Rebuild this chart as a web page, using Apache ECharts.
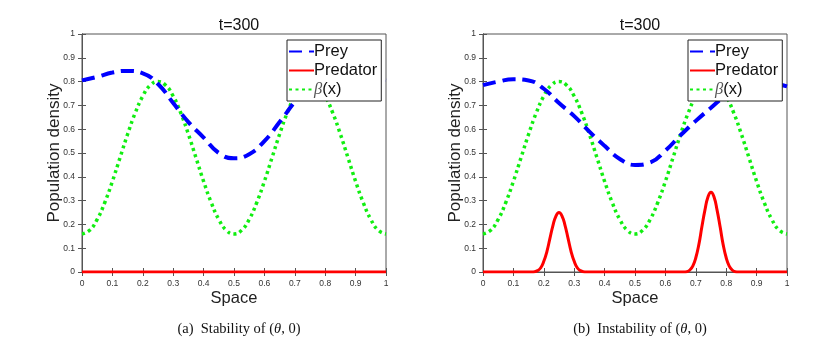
<!DOCTYPE html>
<html>
<head>
<meta charset="utf-8">
<script src="https://cdn.jsdelivr.net/npm/echarts@6/dist/echarts.min.js"></script>
<style>
  html, body { margin: 0; background: #fff; }
  #chart { width: 831px; height: 343px; }
</style>
</head>
<body>
<div id="chart"></div>
<script>
// data
const preyX = [0, 0.05, 0.1, 0.15, 0.2, 0.25, 0.3, 0.35, 0.4, 0.45, 0.5, 0.55, 0.6, 0.65, 0.7, 0.75, 0.8, 0.85, 0.9, 0.95, 1];
const preyStable = [0.805, 0.82, 0.838, 0.845, 0.835, 0.79, 0.71, 0.63, 0.565, 0.5, 0.478, 0.495, 0.55, 0.63, 0.715, 0.79, 0.835, 0.845, 0.838, 0.82, 0.805];
const preyUnstable = [0.785, 0.8, 0.81, 0.805, 0.77, 0.71, 0.655, 0.59, 0.53, 0.475, 0.45, 0.46, 0.51, 0.575, 0.635, 0.69, 0.745, 0.79, 0.805, 0.795, 0.78];

const betaX = [0, 0.025, 0.05, 0.075, 0.1, 0.125, 0.15, 0.175, 0.2, 0.225, 0.25, 0.275, 0.3, 0.325, 0.35, 0.375, 0.4, 0.425, 0.45, 0.475, 0.5,
  0.525, 0.55, 0.575, 0.6, 0.625, 0.65, 0.675, 0.7, 0.725, 0.75, 0.775, 0.8, 0.825, 0.85, 0.875, 0.9, 0.925, 0.95, 0.975, 1];
const betaY = [0.16, 0.175, 0.221, 0.292, 0.381, 0.48, 0.579, 0.668, 0.739, 0.785, 0.8, 0.785, 0.739, 0.668, 0.579, 0.48, 0.381, 0.292, 0.221, 0.175, 0.16,
  0.175, 0.221, 0.292, 0.381, 0.48, 0.579, 0.668, 0.739, 0.785, 0.8, 0.785, 0.739, 0.668, 0.579, 0.48, 0.381, 0.292, 0.221, 0.175, 0.16];

const predStableX = [0, 1];
const predStable = [0, 0];
const predUnstableX = [0, 0.1, 0.16, 0.17, 0.18, 0.19, 0.2, 0.21, 0.22, 0.23, 0.24, 0.25, 0.26, 0.27, 0.28, 0.29, 0.3, 0.31, 0.32, 0.33, 0.34,
  0.4, 0.5, 0.6, 0.66, 0.67, 0.68, 0.69, 0.7, 0.71, 0.72, 0.73, 0.74, 0.75, 0.76, 0.77, 0.78, 0.79, 0.8, 0.81, 0.82, 0.83, 0.84, 0.9, 1];
const predUnstable = [0, 0, 0, 0.001, 0.006, 0.018, 0.045, 0.085, 0.14, 0.195, 0.235, 0.25, 0.235, 0.195, 0.14, 0.085, 0.045, 0.018, 0.006, 0.001, 0,
  0, 0, 0, 0, 0.001, 0.008, 0.025, 0.06, 0.115, 0.19, 0.26, 0.315, 0.335, 0.315, 0.26, 0.19, 0.115, 0.06, 0.025, 0.008, 0.001, 0, 0, 0];

const panelLeft = [82, 483];
const captions = ['(a)  Stability of ({i|θ}, 0)', '(b)  Instability of ({i|θ}, 0)'];

const pairs = (xs, ys) => xs.map((x, i) => [x, ys[i]]);
const axisColor = '#555';
const sans = 'Liberation Sans, Arial';
const serif = 'Liberation Serif, Times New Roman';
const tickLabel = { color: '#333', fontSize: 8.5, fontFamily: sans, margin: 7 };

const grids = [], xAxes = [], yAxes = [], series = [], titles = [], legends = [];

panelLeft.forEach((left, p) => {
  grids.push({ left: left, top: 34, width: 304, height: 238, show: true, borderColor: axisColor, borderWidth: 1, backgroundColor: '#fff' });
  xAxes.push({
    type: 'value', gridIndex: p, min: 0, max: 1, interval: 0.1,
    name: 'Space', nameLocation: 'middle', nameGap: 18, nameMoveOverlap: false,
    nameTextStyle: { color: '#222', fontSize: 16.5, fontFamily: sans },
    axisLine: { lineStyle: { color: axisColor } },
    axisTick: { inside: true, length: 4, lineStyle: { color: axisColor } },
    axisLabel: tickLabel, splitLine: { show: false }
  });
  xAxes.push({
    type: 'value', gridIndex: p, position: 'top', min: 0, max: 1, interval: 0.1,
    axisLine: { lineStyle: { color: axisColor } },
    axisTick: { inside: true, length: 4, lineStyle: { color: axisColor } },
    axisLabel: { show: false }, splitLine: { show: false }
  });
  yAxes.push({
    type: 'value', gridIndex: p, min: 0, max: 1, interval: 0.1,
    name: 'Population density', nameLocation: 'middle', nameGap: 19, nameMoveOverlap: false,
    nameTextStyle: { color: '#222', fontSize: 17, fontFamily: sans },
    axisLine: { lineStyle: { color: axisColor } },
    axisTick: { inside: true, length: 4, lineStyle: { color: axisColor } },
    axisLabel: tickLabel, splitLine: { show: false }
  });
  yAxes.push({
    type: 'value', gridIndex: p, position: 'right', min: 0, max: 1, interval: 0.1,
    axisLine: { lineStyle: { color: axisColor } },
    axisTick: { inside: true, length: 4, lineStyle: { color: axisColor } },
    axisLabel: { show: false }, splitLine: { show: false }
  });

  const xi = p * 2, yi = p * 2;
  const prey = p === 0 ? preyStable : preyUnstable;
  const pred = p === 0 ? pairs(predStableX, predStable) : pairs(predUnstableX, predUnstable);
  series.push({
    name: 'Prey', type: 'line', xAxisIndex: xi, yAxisIndex: yi, smooth: true, symbol: 'none',
    data: pairs(preyX, prey), color: '#0000ff',
    lineStyle: { color: '#0000ff', width: 4, type: [13, 7] }, z: 3
  });
  series.push({
    name: 'Predator', type: 'line', xAxisIndex: xi, yAxisIndex: yi, smooth: true, symbol: 'none',
    data: pred, color: '#ff0000',
    lineStyle: { color: '#ff0000', width: 3 }, z: 4
  });
  series.push({
    name: 'β(x)', type: 'line', xAxisIndex: xi, yAxisIndex: yi, smooth: true, symbol: 'none',
    data: pairs(betaX, betaY), color: '#11ee11',
    lineStyle: { color: '#11ee11', width: 3.5, type: [3, 3.5] }, z: 2
  });

  titles.push({
    text: 't=300', left: left + 152, top: 13, textAlign: 'center',
    textStyle: { color: '#111', fontSize: 16, fontWeight: 'normal', fontFamily: sans }
  });
  titles.push({
    text: captions[p], left: left + 152, top: 317, textAlign: 'center',
    textStyle: {
      color: '#111', fontSize: 14.5, fontWeight: 'normal', fontFamily: serif,
      rich: { i: { fontStyle: 'italic', fontSize: 14.5, fontFamily: serif, color: '#111' } }
    }
  });

  legends.push({
    orient: 'vertical', left: left + 205, top: 40,
    padding: [3, 4, 3, 1], itemGap: 2, itemWidth: 25, itemHeight: 18,
    backgroundColor: '#fff', borderColor: '#222', borderWidth: 1, borderRadius: 0,
    seriesIndex: [p * 3, p * 3 + 1, p * 3 + 2],
    data: ['Prey', 'Predator', 'β(x)'],
    itemStyle: { opacity: 0 },
    formatter: name => name === 'β(x)' ? '{i|β}(x)' : name,
    textStyle: {
      color: '#111', fontSize: 16.5, fontFamily: sans, padding: [0, 0, 0, -5],
      rich: { i: { fontStyle: 'italic', fontSize: 16.5, fontFamily: serif, color: '#555' } }
    }
  });
});

const chart = echarts.init(document.getElementById('chart'));
chart.setOption({
  animation: false,
  backgroundColor: '#fff',
  title: titles,
  legend: legends,
  grid: grids,
  xAxis: xAxes,
  yAxis: yAxes,
  series: series
});
</script>
</body>
</html>
